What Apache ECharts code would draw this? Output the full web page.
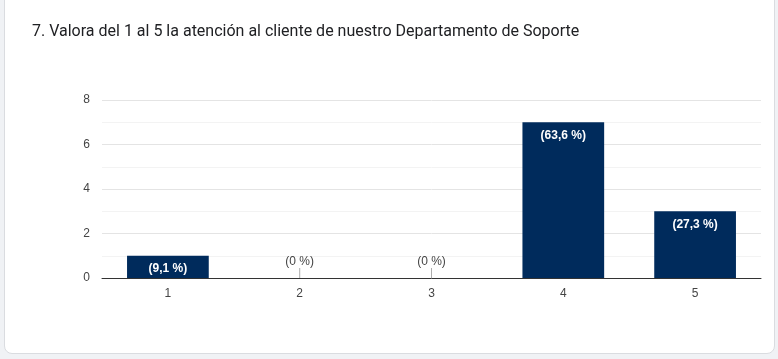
<!DOCTYPE html>
<html><head><meta charset="utf-8">
<script src="https://cdn.jsdelivr.net/npm/echarts@6/dist/echarts.min.js"></script>
<style>
html,body{margin:0;padding:0;background:#f0f2f5;width:778px;height:359px;overflow:hidden;}
#card{position:absolute;left:4px;top:-10px;width:769px;height:362px;background:#fff;border:1px solid #dadce0;border-radius:8px;}
#chart{position:absolute;left:0;top:0;width:778px;height:359px;}
</style></head>
<body><div id="card"></div><div id="chart"></div>
<script>
const titleText = "7. Valora del 1 al 5 la atención al cliente de nuestro Departamento de Soporte";
const categories = ["1","2","3","4","5"];
const counts = [1,0,0,7,3];
const percentLabels = ["(9,1 %)","(0 %)","(0 %)","(63,6 %)","(27,3 %)"];
const yTicks = [0,2,4,6,8];

const chart = echarts.init(document.getElementById('chart'));
const barData = counts.map((v,i)=>({
  value:v,
  label: v>0 ? {show:true, position:'insideTop', distance:7, color:'#fff', fontWeight:'bold', fontSize:12, fontFamily:'Liberation Sans, Arial', formatter:percentLabels[i]}
             : {show:true, position:'top', distance:10, color:'#444', fontSize:12, fontFamily:'Liberation Sans, Arial', formatter:percentLabels[i]}
}));
const zeroMarks = counts.map((v,i)=> v===0 ? [categories[i], 0] : null).filter(Boolean);
chart.setOption({
  animation:false,
  title:{text:titleText, left:27, top:19, textStyle:{fontFamily:'Roboto', fontSize:16, fontWeight:'normal', color:'#202124'}},
  grid:{left:102, right:17, top:100, bottom:81},
  xAxis:{type:'category', data:categories,
    axisLine:{lineStyle:{color:'#333', width:1}}, axisTick:{show:false},
    axisLabel:{color:'#444', fontSize:12, fontFamily:'Liberation Sans, Arial', margin:10}},
  yAxis:{type:'value', min:yTicks[0], max:yTicks[yTicks.length-1], interval:2,
    axisLine:{show:false}, axisTick:{show:false},
    axisLabel:{color:'#444', fontSize:12, fontFamily:'Liberation Sans, Arial', margin:12},
    splitLine:{lineStyle:{color:'#e4e4e4'}},
    minorTick:{show:false, splitNumber:2},
    minorSplitLine:{show:true, lineStyle:{color:'#f3f3f3'}}},
  series:[
    {type:'bar', data:barData, barWidth:'62%', itemStyle:{color:'#002b5c'}},
    {type:'scatter', data:zeroMarks, symbol:'rect', symbolSize:[1,10], symbolOffset:[0,-5], itemStyle:{color:'#999'}, silent:true, z:3}
  ]
});
</script></body></html>
